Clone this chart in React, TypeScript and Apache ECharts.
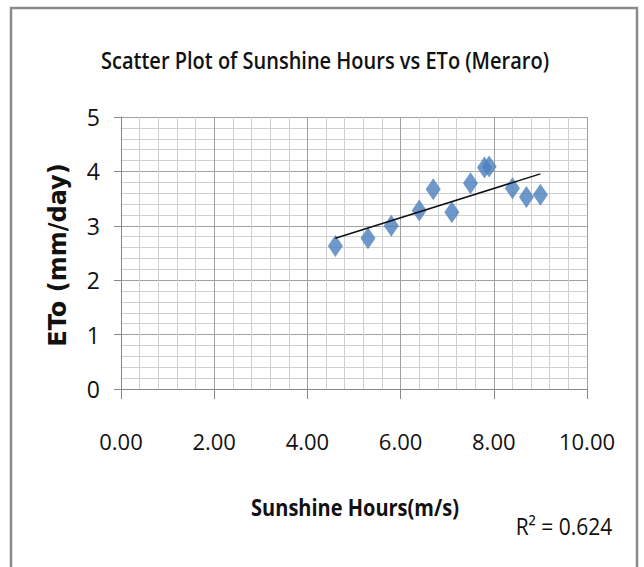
import React, { useEffect, useRef } from "react";
import * as echarts from "echarts";

const sunshineHours = [4.6, 5.3, 5.8, 6.4, 6.7, 7.1, 7.5, 7.8, 7.9, 8.4, 8.7, 9.0];
const etoValues = [2.63, 2.77, 3.0, 3.28, 3.67, 3.25, 3.78, 4.07, 4.09, 3.69, 3.53, 3.57];
const titleText = "Scatter Plot of Sunshine Hours vs ETo (Meraro)";
const xAxisName = "Sunshine Hours(m/s)";
const yAxisName = "ETo (mm/day)";
const r2Label = "R\u00B2 = 0.624";

const SANS = "'Open Sans', 'Noto Sans', sans-serif";

function regression(xs: number[], ys: number[]) {
  const n = xs.length;
  const mx = xs.reduce((a, b) => a + b, 0) / n;
  const my = ys.reduce((a, b) => a + b, 0) / n;
  let sxy = 0, sxx = 0;
  for (let i = 0; i < n; i++) {
    sxy += (xs[i] - mx) * (ys[i] - my);
    sxx += (xs[i] - mx) * (xs[i] - mx);
  }
  const slope = sxy / sxx;
  return { slope, intercept: my - slope * mx };
}

export default function App() {
  const ref = useRef<HTMLDivElement>(null);
  useEffect(() => {
    if (!ref.current) return;
    const chart = echarts.init(ref.current, undefined, { renderer: "svg" });
    const { slope, intercept } = regression(sunshineHours, etoValues);
    const xMin = Math.min(...sunshineHours);
    const xMax = Math.max(...sunshineHours);
    const trend = [
      [xMin, intercept + slope * xMin],
      [xMax, intercept + slope * xMax],
    ];
    chart.setOption({
      animation: false,
      backgroundColor: "#ffffff",
      grid: { left: 121, top: 117, right: 57, bottom: 178, containLabel: false },
      graphic: [
        {
          type: "rect",
          shape: { x: 11, y: 8, width: 626, height: 570 },
          style: { fill: "none", stroke: "#8a8a8a", lineWidth: 2.5 },
          silent: true,
          z: -1,
        },
        {
          type: "text",
          x: 325,
          y: 60,
          scaleY: 1.15,
          style: {
            text: titleText,
            font: `600 20px ${SANS}`,
            fill: "#111",
            align: "center",
            verticalAlign: "middle",
          },
        },
        {
          type: "text",
          x: 355,
          y: 507,
          scaleY: 1.15,
          style: {
            text: xAxisName,
            font: `bold 20px ${SANS}`,
            fill: "#111",
            align: "center",
            verticalAlign: "middle",
          },
        },
        {
          type: "text",
          x: 58,
          y: 255,
          rotation: Math.PI / 2,
          style: {
            text: yAxisName,
            font: "bold 24px 'DejaVu Sans', Verdana, sans-serif",
            fill: "#111",
            align: "center",
            verticalAlign: "middle",
          },
        },
        {
          type: "text",
          x: 564,
          y: 526,
          scaleY: 1.1,
          style: {
            text: r2Label,
            font: `21px ${SANS}`,
            fill: "#111",
            align: "center",
            verticalAlign: "middle",
          },
        },
      ],
      xAxis: {
        type: "value",
        min: 0,
        max: 10,
        interval: 2,
        axisLine: { show: true, lineStyle: { color: "#888", width: 1 } },
        axisTick: { show: true, length: 10, lineStyle: { color: "#888" } },
        axisLabel: {
          margin: 41,
          formatter: (v: number) => v.toFixed(2),
          color: "#111",
          fontSize: 22,
          fontFamily: SANS,
        },
        splitLine: { show: true, lineStyle: { color: "#a0a0a0", width: 1 } },
        minorTick: { show: false, splitNumber: 5 },
        minorSplitLine: { show: true, lineStyle: { color: "#cfcfcf", width: 1 } },
      },
      yAxis: {
        type: "value",
        min: 0,
        max: 5,
        interval: 1,
        axisLine: { show: true, lineStyle: { color: "#888", width: 1 } },
        axisTick: { show: true, length: 7, lineStyle: { color: "#888" } },
        axisLabel: {
          margin: 21,
          color: "#111",
          fontSize: 23,
          fontFamily: SANS,
        },
        splitLine: { show: true, lineStyle: { color: "#a0a0a0", width: 1 } },
        minorTick: { show: false, splitNumber: 5 },
        minorSplitLine: { show: true, lineStyle: { color: "#cfcfcf", width: 1 } },
      },
      series: [
        {
          type: "scatter",
          symbol: "diamond",
          symbolSize: [15, 22],
          itemStyle: { color: "#4a7ebb" },
          data: sunshineHours.map((x, i) => [x, etoValues[i]]),
          z: 2,
        },
        {
          type: "line",
          data: trend,
          showSymbol: false,
          symbol: "none",
          lineStyle: { color: "#111", width: 1.5 },
          z: 3,
        },
      ],
    });
    return () => chart.dispose();
  }, []);
  return <div ref={ref} style={{ width: 644, height: 567, position: "absolute", left: 0, top: 0 }} />;
}
